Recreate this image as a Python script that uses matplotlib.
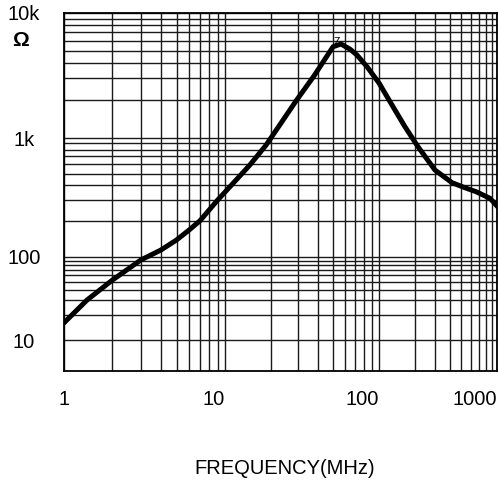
import numpy as np
import matplotlib.pyplot as plt

# impedance curve
freq_mhz = [1, 1.39, 2, 3, 4, 5, 6, 7, 9, 10, 14.5, 18.5, 28.9, 37.8, 50.3,
            56.6, 64.9, 71.9, 83.6, 100, 131.5, 166, 214, 298, 416, 535,
            664, 874, 1000]
impedance_ohm = [16.1, 30.3, 52.8, 92, 114.5, 139, 169, 202, 301, 351, 593,
                 873, 1977, 3133, 5370, 5650, 5130, 4613, 3718, 2754, 1778,
                 1230, 845, 538, 421, 382, 354, 311, 268]

x_ticks = [1, 10, 100, 1000]
x_labels = ["1", "10", "100", "1000"]
y_ticks = [10, 100, 1000, 10000]
y_labels = ["10", "100", "1k", "10k"]

# the decades on the original sheet are not all the same size
x_dec, x_pos = [0, 1, 2, 3], [0, 161, 315, 433]
y_dec, y_pos = [0, 1, 2, 3, 4], [-52, 31, 114, 233, 358]


def sheet_scale(dec, pos):
    def fwd(v):
        v = np.maximum(np.asarray(v, dtype=float), 1e-9)
        return np.interp(np.log10(v), dec, pos)

    def inv(u):
        return 10 ** np.interp(u, pos, dec)

    return fwd, inv


plt.rcParams["font.family"] = ["Liberation Sans", "DejaVu Sans"]

fig = plt.figure(figsize=(5.01, 4.86), dpi=100)
ax = fig.add_axes([64 / 501, 1 - 371 / 486, 433 / 501, 358 / 486])

ax.set_xscale("function", functions=sheet_scale(x_dec, x_pos))
ax.set_yscale("function", functions=sheet_scale(y_dec, y_pos))
ax.set_xlim(1, 1000)
ax.set_ylim(10 ** (1 - 31 / 83), 10000)

x_minor = [m * 10 ** d for d in range(3) for m in range(2, 10)]
y_minor = [m * 10 ** d for d in range(1, 4) for m in range(2, 10)]

ax.set_xticks(x_ticks)
ax.set_xticklabels(x_labels, fontsize=14.5)
ax.set_xticks(x_minor, minor=True)
ax.set_yticks(y_ticks)
ax.set_yticklabels(y_labels, fontsize=14.5, ha="center")
ax.set_yticks(y_minor, minor=True)
ax.tick_params(which="both", length=0)
ax.tick_params(axis="y", pad=29)
ax.tick_params(axis="x", pad=14)
for lab in ax.get_xticklabels()[1:]:
    lab.set_ha("right")

ax.grid(which="both", color="#1a1a1a", lw=1.0)
ax.set_axisbelow(True)
for s in ax.spines.values():
    s.set_linewidth(1.3)

ax.plot(freq_mhz, impedance_ohm, color="black", lw=3.6,
        solid_joinstyle="round", clip_on=True)

ax.text(53.4, 5900, "Z", fontsize=7.5, ha="center", va="center")

fig.text(20.5 / 501, 1 - 41 / 486, "Ω", fontsize=15, fontweight="bold",
         ha="center", va="center")
fig.text(284.5 / 501, 1 - 468 / 486, "FREQUENCY(MHz)", fontsize=14.5,
         ha="center", va="center")

fig.savefig("out.png", dpi=100)
